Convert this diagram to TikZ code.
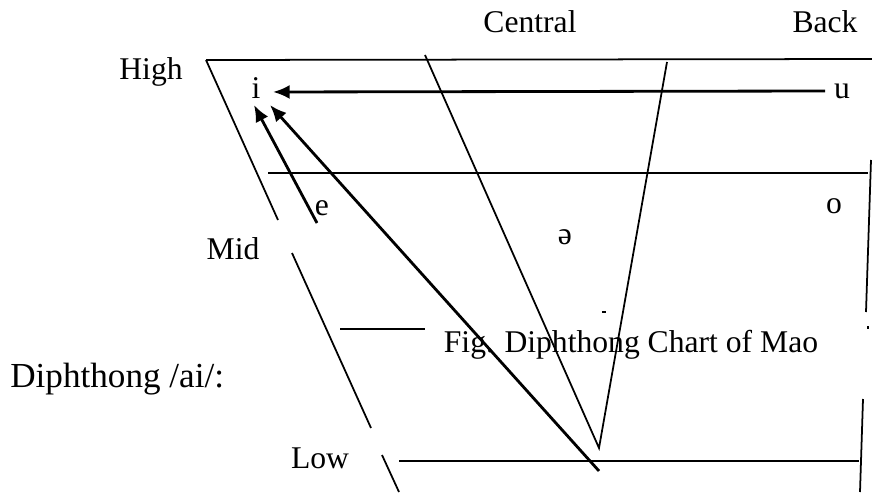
\documentclass[tikz,border=0pt]{standalone}
\usepackage{fontspec}
\setmainfont{Liberation Serif}
\usepackage{tikz}
\usetikzlibrary{arrows.meta}

\begin{document}
\begin{tikzpicture}[
    x=0.02cm, y=-0.02cm,
    lbl/.style={anchor=base, inner sep=0pt, font=\fontsize{18}{20}\selectfont},
    chart/.style={line width=1pt},
    glide/.style={-{Latex[length=9.5pt, width=8pt]}, line width=1.6pt}
]
\useasboundingbox (0,0) rectangle (872,493);

% labels
\node[lbl] (central) at (530,33) {Central};
\node[lbl] (back) at (825,33) {Back};
\node[lbl] (high) at (151,80) {High};
\node[lbl] (mid) at (233,259) {Mid};
\node[lbl] (low) at (320,468) {Low};
\node[lbl] (fig) at (631,352) {Fig. Diphthong Chart of Mao};
\node[lbl, anchor=base west, font=\fontsize{20}{22}\selectfont] (diph) at (10,387) {Diphthong /ai/:};

% vowels
\node[lbl] (i) at (256,99) {i};
\node[lbl] (u) at (842,99) {u};
\node[lbl] (e) at (322,215) {e};
\node[lbl] (o) at (834,214) {o};
\node[lbl] (schwa) at (565,245) {ə};

% chart lines
\draw[chart] (206,60) -- (872,59);
\draw[chart] (206,60) -- (278,220);
\draw[chart] (292,253) -- (371,428);
\draw[chart] (382,455) -- (399,492);
\draw[chart] (268,173) -- (868,173);
\draw[chart] (340,329) -- (425,329);
\draw[chart] (399,461) -- (859,461);
\draw[chart] (871,160) -- (866,312);
\draw[chart] (863,399) -- (860,492);
\draw[chart] (425,55) -- (599,448) -- (667,62);
\draw[line width=0.6pt] (602,312) -- (606,312);
\draw[line width=0.6pt] (868,326) -- (868,329);

% glides
\coordinate (uTail) at (825,91);
\coordinate (uHead) at (273,92);
\coordinate (eTail) at (317,223);
\coordinate (eHead) at (254,105);
\coordinate (aTail) at (599,471);
\coordinate (aHead) at (270,105);
\draw[glide] (uTail) -- (uHead);
\draw[glide] (eTail) -- (eHead);
\draw[glide] (aTail) -- (aHead);
\end{tikzpicture}
\end{document}
